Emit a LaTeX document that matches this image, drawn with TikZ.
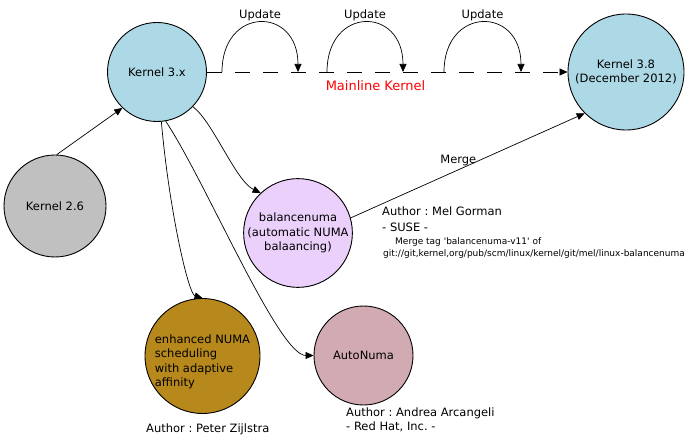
\documentclass[tikz,border=0pt]{standalone}
\usepackage{fontspec}
\setmainfont{DejaVu Sans}
\usetikzlibrary{arrows.meta, positioning}
\frenchspacing

\definecolor{kernelblue}{RGB}{173,216,230}
\definecolor{kernelgrey}{RGB}{192,192,192}
\definecolor{balviolet}{RGB}{234,208,250}
\definecolor{enhgold}{RGB}{183,136,28}
\definecolor{autorose}{RGB}{210,170,178}

\begin{document}
\begin{tikzpicture}[x=1pt, y=1pt,
  textfont/.style={font=\fontsize{11.5}{14.5}\selectfont},
  smallfont/.style={font=\fontsize{9}{11}\selectfont},
  kreis/.style={circle, draw=black, line width=0.9pt, inner sep=0pt, textfont, align=center},
  pfeil/.style={-{Triangle[length=8pt,width=7pt]}, line width=0.7pt},
  notiz/.style={anchor=base west, inner sep=0pt, textfont}]
\useasboundingbox (0,0) rectangle (691,437);

% Kernel-Versionen
\node[kreis, fill=kernelblue, minimum size=99pt] (k3x) at (157,365) {Kernel 3.x};
\node[kreis, fill=kernelgrey, minimum size=102pt] (k26) at (55,231) {Kernel 2.6};
\node[kreis, fill=kernelblue, minimum size=116pt] (k38) at (626,365) {Kernel 3.8\\(December 2012)};

% NUMA-Zweige
\node[kreis, fill=balviolet, minimum size=108pt] (bal) at (298,204) {balancenuma\\(automatic NUMA\\balaancing)};
\node[kreis, fill=enhgold, minimum size=115pt,
  label={[textfont, align=left, inner sep=0pt, yshift=-6pt]center:enhanced NUMA\\scheduling\\with adaptive\\affinity}] (enh) at (202.5,81) {};
\node[kreis, fill=autorose, minimum size=99pt] (auto) at (363.5,81.5) {AutoNuma};

% Mainline
\draw[pfeil, dash pattern=on 15pt off 13pt] (k3x.east) -- (k38.west);
\node[text=red, font=\fontsize{13}{15}\selectfont] (mainline) at (375.5,351) {Mainline Kernel};

% Updates
\foreach \a/\b in {222/298, 327/403, 444/521} {
  \coordinate (us\a) at (\a,365);
  \coordinate (ue\a) at (\b,365);
  \draw[pfeil] (us\a) .. controls +(0,66) and +(0,66) .. (ue\a)
    node[midway, above=1pt, inner sep=0pt, textfont] {Update};
}

% Verbindungen
\draw[pfeil] (k26.88) -- (k3x.226);
\draw[pfeil] (k3x.-44) .. controls +(20,-15) and +(-25,12) .. (bal.133.5);
\draw[pfeil] (k3x.-85) .. controls +(8,-90) and +(-14,4) .. (enh.north);
\draw[pfeil] (k3x.-80) .. controls +(40,-60) and +(-35,0) .. (auto.west);
\draw[pfeil] (bal.16) -- (k38.225)
  node[pos=0.46, anchor=base, yshift=6.5pt, inner sep=0pt, textfont] {Merge};

% Autoren
\node[notiz] (melauthor) at (382,221) {Author : Mel Gorman};
\node[notiz] (suse) at (382,205.5) {- SUSE -};
\node[notiz, smallfont] (mergetag) at (395,192) {Merge tag \textquotesingle balancenuma-v11\textquotesingle{} of};
\node[notiz, smallfont] (gitpath) at (383,180) {git://git,kernel,org/pub/scm/linux/kernel/git/mel/linux-balancenuma};
\node[notiz] (aaauthor) at (346,21) {Author : Andrea Arcangeli};
\node[notiz] (redhat) at (346,7) {- Red Hat, Inc. -};
\node[notiz] (pzauthor) at (146,5) {Author : Peter Zijlstra};
\end{tikzpicture}
\end{document}
